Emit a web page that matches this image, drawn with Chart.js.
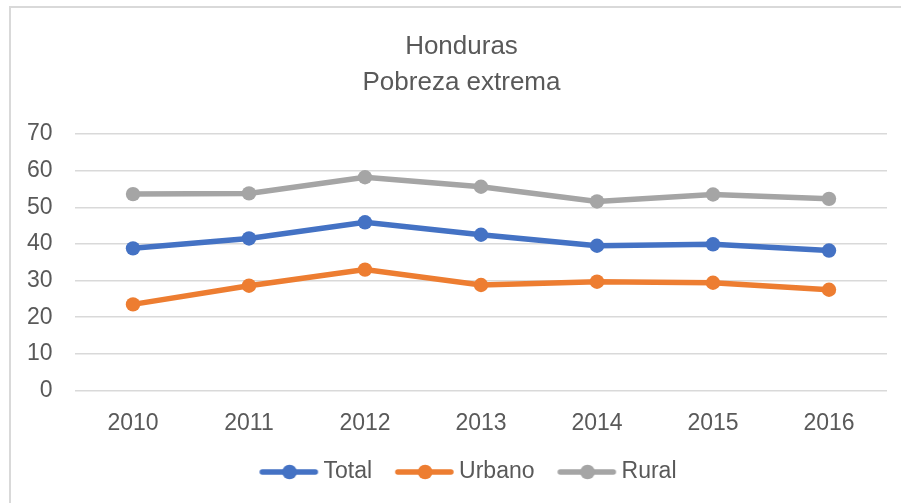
<!DOCTYPE html>
<html>
<head>
<meta charset="utf-8">
<script src="https://cdn.jsdelivr.net/npm/chart.js@4"></script>
<style>
html,body{margin:0;padding:0;background:#fff;}
#wrap{position:absolute;left:0;top:0;width:901px;height:503px;}
</style>
</head>
<body>
<div id="wrap"><canvas id="c" width="901" height="503"></canvas></div>
<script>
const categories = ['2010','2011','2012','2013','2014','2015','2016'];
const totalValues = [38.8, 41.5, 45.9, 42.5, 39.5, 39.9, 38.2];
const urbanoValues = [23.5, 28.6, 33.0, 28.8, 29.7, 29.4, 27.5];
const ruralValues = [53.6, 53.8, 58.2, 55.6, 51.6, 53.5, 52.3];
const seriesNames = ['Total', 'Urbano', 'Rural'];
const seriesColors = ['#4472C4', '#ED7D31', '#A5A5A5'];
const titleLines = ['Honduras', 'Pobreza extrema'];

function makeIcon(color) {
  const cv = document.createElement('canvas');
  cv.width = 80; cv.height = 18;
  const g = cv.getContext('2d');
  g.strokeStyle = color; g.lineWidth = 5.5; g.lineCap = 'round';
  g.beginPath(); g.moveTo(23, 9); g.lineTo(76, 9); g.stroke();
  g.fillStyle = color;
  g.beginPath(); g.arc(50.25, 9, 7.3, 0, Math.PI * 2); g.fill();
  return cv;
}
const icons = seriesColors.map(makeIcon);

const frame = {
  id: 'frame',
  beforeDraw(chart) {
    const ctx = chart.ctx;
    ctx.save();
    ctx.fillStyle = '#fff';
    ctx.fillRect(0, 0, chart.width, chart.height);
    ctx.strokeStyle = '#d9d9d9';
    ctx.lineWidth = 2;
    ctx.beginPath();
    ctx.moveTo(10, 503);
    ctx.lineTo(10, 7);
    ctx.lineTo(901, 7);
    ctx.stroke();
    ctx.restore();
  }
};

const valuesList = [totalValues, urbanoValues, ruralValues];
const datasets = seriesNames.map((n, i) => ({
  label: n,
  data: valuesList[i],
  borderColor: seriesColors[i],
  backgroundColor: seriesColors[i],
  borderWidth: 5.5,
  pointRadius: 7.2,
  pointHoverRadius: 7.2,
  pointBorderWidth: 0,
  pointBackgroundColor: seriesColors[i],
  tension: 0
}));

const FONT = 'Liberation Sans, Arial, sans-serif';

new Chart(document.getElementById('c'), {
  type: 'line',
  data: { labels: categories, datasets: datasets },
  plugins: [frame],
  options: {
    responsive: false,
    animation: false,
    devicePixelRatio: 1,
    layout: { padding: { left: 26, right: 4, top: 22, bottom: 9.5 } },
    plugins: {
      title: {
        display: true,
        text: titleLines,
        color: '#595959',
        font: { family: FONT, size: 26, weight: 'normal', lineHeight: 1.385 },
        padding: { top: 7, bottom: 33 }
      },
      legend: {
        position: 'bottom',
        labels: {
          usePointStyle: true,
          pointStyleWidth: 65.5,
          padding: 10,
          color: '#595959',
          font: { family: FONT, size: 23 },
          generateLabels(chart) {
            const items = Chart.defaults.plugins.legend.labels.generateLabels(chart);
            items.forEach((it, i) => { it.pointStyle = icons[i]; });
            return items;
          }
        }
      },
      tooltip: { enabled: false }
    },
    scales: {
      x: {
        offset: true,
        afterFit(scale) { scale.height = 60; },
        grid: { display: false, drawTicks: false },
        border: { display: false },
        ticks: {
          color: '#595959',
          padding: 19,
          font: { family: FONT, size: 23 }
        }
      },
      y: {
        min: 0, max: 70,
        afterFit(scale) { scale.width = 49; },
        grid: { color: '#d9d9d9', lineWidth: 1.5, drawTicks: false },
        border: { display: false },
        ticks: {
          stepSize: 10,
          color: '#595959',
          padding: 22.4,
          font: { family: FONT, size: 23 }
        }
      },
      yRight: {
        position: 'right',
        display: true,
        afterFit(scale) { scale.width = 10; },
        grid: { display: false, drawTicks: false },
        border: { display: false },
        ticks: { display: false }
      }
    }
  }
});
</script>
</body>
</html>
